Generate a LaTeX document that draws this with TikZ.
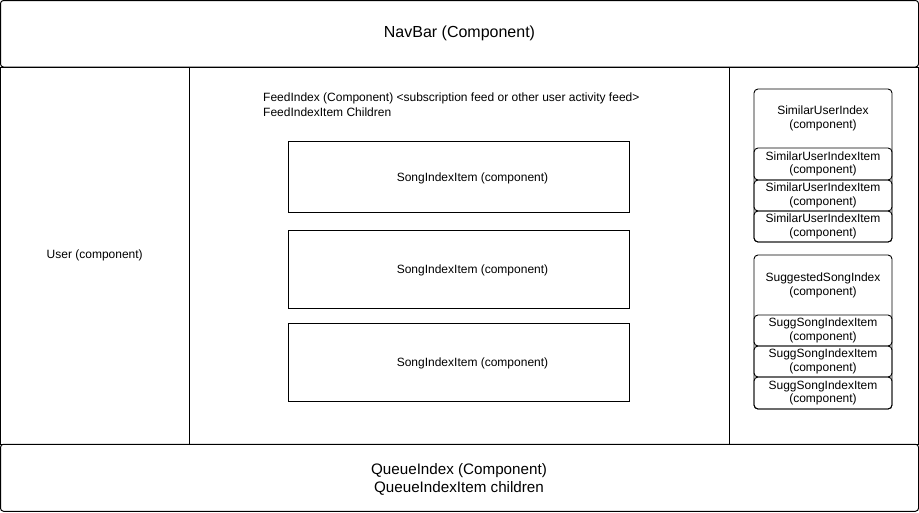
\documentclass[tikz,border=0pt]{standalone}
\usepackage{fontspec}
\setmainfont{Liberation Sans}
\usepackage{tikz}
\usetikzlibrary{positioning}
\tikzset{
  % Common styles for the layout
  panel/.style={draw, rectangle, line width=1pt, inner sep=0pt},
  bar/.style={panel, rounded corners=3pt, align=center},
  songbox/.style={draw, rectangle, line width=0.9pt, minimum width=341pt,
    label={[xshift=14pt, yshift=-1.5pt, font=\fontsize{12}{14}\selectfont]center:#1}},
  listbox/.style={draw, rectangle, rounded corners=4pt, line width=0.9pt, minimum width=138pt, inner sep=0pt},
  listitem/.style={listbox, align=center, font=\fontsize{12}{13.5}\selectfont}
}

\begin{document}
\begin{tikzpicture}[x=1pt, y=-1pt]
        \useasboundingbox (0,0) rectangle (919,512);
        % Define panels
        \node[bar, minimum width=918pt, minimum height=66.5pt, font=\fontsize{16}{18}\selectfont] (navbar) at (459.5,33.75) {NavBar (Component)};
        \node[panel, minimum width=188.5pt, minimum height=377pt, font=\fontsize{12}{14}\selectfont] (user) at (94.75,255.5) {User (component)};
        \node[panel, minimum width=540pt, minimum height=377pt] (feed) at (459,255.5) {};
        \node[panel, minimum width=189.5pt, minimum height=377pt] (side) at (823.75,255.5) {};
        \node[bar, minimum width=918pt, minimum height=67pt, font=\fontsize{15.2}{18}\selectfont] (queue) at (459.5,477.75) {};
        \node[align=center, font=\fontsize{15.2}{18}\selectfont] (queuetext) at (459,479.5) {QueueIndex (Component)\\QueueIndexItem children};

        % Define feed contents
        \node[anchor=west, align=left, inner sep=0pt, font=\fontsize{12}{15}\selectfont] (feedtext) at (263,104.5)
          {FeedIndex (Component) <subscription feed or other user activity feed>\\FeedIndexItem Children};
        \node[songbox=SongIndexItem (component), minimum height=71pt] (song1) at (458.5,176.5) {};
        \node[songbox=SongIndexItem (component), minimum height=78pt] (song2) at (458.5,269) {};
        \node[songbox=SongIndexItem (component), minimum height=78pt] (song3) at (458.5,362) {};

        % Define side lists
        \node[listbox, minimum height=153pt] (simuser) at (823,165.5) {};
        \node[align=center, font=\fontsize{12}{14}\selectfont] (simusertext) at (823,118.5) {SimilarUserIndex\\(component)};
        \node[listitem, minimum height=32pt] (simitem1) at (823,164) {SimilarUserIndexItem\\(component)};
        \node[listitem, minimum height=31pt] (simitem2) at (823,195.5) {SimilarUserIndexItem\\(component)};
        \node[listitem, minimum height=31pt] (simitem3) at (823,226.5) {SimilarUserIndexItem\\(component)};

        \node[listbox, minimum height=154pt] (sugg) at (823,332) {};
        \node[align=center, font=\fontsize{12}{14}\selectfont] (suggtext) at (823,285) {SuggestedSongIndex\\(component)};
        \node[listitem, minimum height=31pt] (suggitem1) at (823,330.5) {SuggSongIndexItem\\(component)};
        \node[listitem, minimum height=31pt] (suggitem2) at (823,361.5) {SuggSongIndexItem\\(component)};
        \node[listitem, minimum height=32pt] (suggitem3) at (823,393) {SuggSongIndexItem\\(component)};
    \end{tikzpicture}
\end{document}
